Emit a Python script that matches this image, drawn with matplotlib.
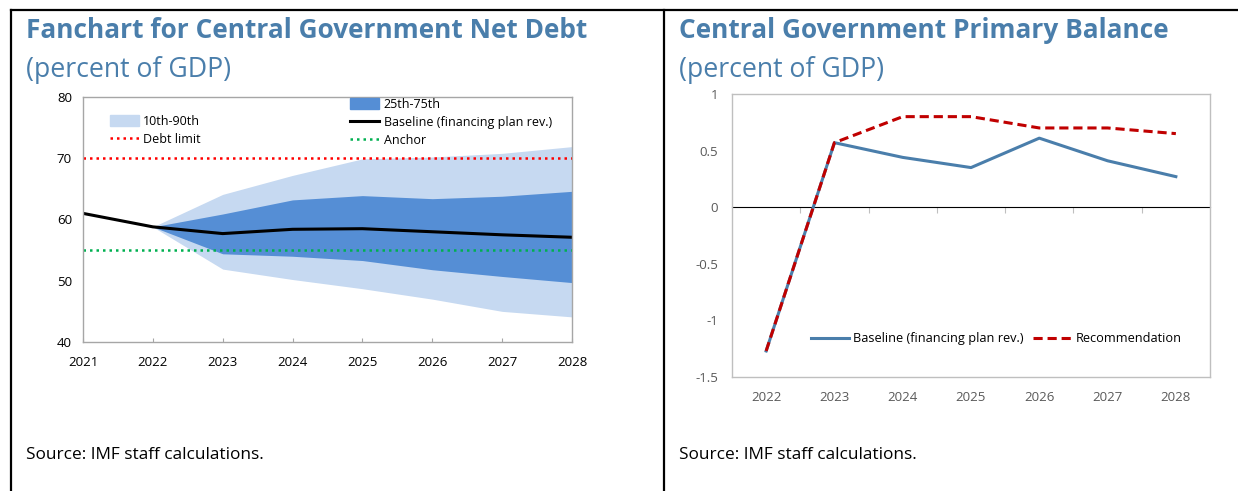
import matplotlib.pyplot as plt
import matplotlib.patches as mpatches
from matplotlib.lines import Line2D

plt.rcParams['font.family'] = ['Open Sans', 'DejaVu Sans']

# left panel: net debt fanchart
years_debt = [2021, 2022, 2023, 2024, 2025, 2026, 2027, 2028]
baseline_debt = [61.0, 58.8, 57.7, 58.4, 58.5, 58.0, 57.5, 57.1]
fan_years = [2022, 2023, 2024, 2025, 2026, 2027, 2028]
p10 = [58.8, 51.9, 50.2, 48.7, 47.0, 45.0, 44.1]
p25 = [58.8, 54.4, 54.0, 53.3, 51.8, 50.7, 49.7]
p75 = [58.8, 60.9, 63.2, 63.9, 63.4, 63.8, 64.6]
p90 = [58.8, 64.1, 67.2, 69.9, 70.2, 70.8, 71.9]
debt_limit = 70
anchor = 55

# right panel: primary balance
years_pb = [2022, 2023, 2024, 2025, 2026, 2027, 2028]
baseline_pb = [-1.27, 0.57, 0.44, 0.35, 0.61, 0.41, 0.27]
recommendation_pb = [-1.27, 0.57, 0.80, 0.80, 0.70, 0.70, 0.65]

title_col = '#4a7eab'
W, H = 1238, 491

fig = plt.figure(figsize=(W / 100, H / 100), dpi=100)

# frame lines
fig.add_artist(Line2D([11 / W, 1], [1 - 10 / H] * 2, color='black', lw=1.6))
fig.add_artist(Line2D([11 / W] * 2, [0, 1 - 10 / H], color='black', lw=1.6))
fig.add_artist(Line2D([664 / W] * 2, [0, 1 - 10 / H], color='black', lw=1.6))

# titles
fig.text(26 / W, 1 - 31 / H, 'Fanchart for Central Government Net Debt', fontsize=18.9,
         fontweight='bold', color=title_col, va='center')
fig.text(26 / W, 1 - 70 / H, '(percent of GDP)', fontsize=19.2, color=title_col, va='center')
fig.text(679 / W, 1 - 31 / H, 'Central Government Primary Balance', fontsize=18.9,
         fontweight='bold', color=title_col, va='center')
fig.text(679 / W, 1 - 70 / H, '(percent of GDP)', fontsize=19.2, color=title_col, va='center')
fig.text(26 / W, 1 - 455 / H, 'Source: IMF staff calculations.', fontsize=12.4, va='center')
fig.text(679 / W, 1 - 455 / H, 'Source: IMF staff calculations.', fontsize=12.4, va='center')

# ---- left chart
ax1 = fig.add_axes([83 / W, 1 - 342 / H, 489 / W, 245 / H])
light = '#c6d9f1'
dark = '#558ed5'
ax1.fill_between(fan_years, p10, p90, color=light, lw=0)
ax1.fill_between(fan_years, p25, p75, color=dark, lw=0)
ax1.axhline(debt_limit, color='#ff0000', lw=1.8, linestyle=(0, (1, 1.6)))
ax1.axhline(anchor, color='#00b050', lw=1.8, linestyle=(0, (1, 1.6)))
ax1.plot(years_debt, baseline_debt, color='black', lw=2.2)
ax1.set_xlim(2021, 2028)
ax1.set_ylim(40, 80)
ax1.set_xticks(years_debt)
ax1.set_yticks([40, 50, 60, 70, 80])
ax1.tick_params(axis='both', labelsize=9.5, colors='#a6a6a6', labelcolor='black')
ax1.tick_params(axis='x', direction='in', length=3, pad=10)
ax1.tick_params(axis='y', length=0, pad=8)
for s in ax1.spines.values():
    s.set_color('#a6a6a6')
    s.set_linewidth(1)

leg_a = ax1.legend(handles=[mpatches.Patch(color=light, label='10th-90th'),
                            Line2D([], [], color='#ff0000', lw=1.8, linestyle=(0, (1, 1.6)),
                                   label='Debt limit')],
                   loc='upper left', bbox_to_anchor=(0.055, 0.928), frameon=False,
                   fontsize=9, handlelength=2.3, handleheight=0.9, handletextpad=0.35,
                   labelspacing=0.42, borderpad=0, borderaxespad=0)
ax1.add_artist(leg_a)
ax1.legend(handles=[mpatches.Patch(color=dark, label='25th-75th'),
                    Line2D([], [], color='black', lw=2.2, label='Baseline (financing plan rev.)'),
                    Line2D([], [], color='#00b050', lw=1.8, linestyle=(0, (1, 1.6)),
                           label='Anchor')],
           loc='upper left', bbox_to_anchor=(0.547, 0.997), frameon=False,
           fontsize=9, handlelength=2.3, handleheight=0.9, handletextpad=0.35,
           labelspacing=0.42, borderpad=0, borderaxespad=0)

# ---- right chart
ax2 = fig.add_axes([732 / W, 1 - 377 / H, 478 / W, 283 / H])
ax2.plot(years_pb, baseline_pb, color='#4a7eab', lw=2.2,
         label='Baseline (financing plan rev.)')
ax2.plot(years_pb, recommendation_pb, color='#c00000', lw=2.2, linestyle=(0, (3, 1.6)),
         label='Recommendation')
ax2.set_xlim(2021.5, 2028.5)
ax2.set_ylim(-1.5, 1)
ax2.set_xticks(years_pb)
ax2.set_yticks([-1.5, -1, -0.5, 0, 0.5, 1])
ax2.set_yticklabels(['-1.5', '-1', '-0.5', '0', '0.5', '1'])
ax2.tick_params(axis='both', labelsize=9.5, labelcolor='#595959', colors='#bfbfbf')
ax2.tick_params(axis='x', length=0, pad=10)
ax2.tick_params(axis='y', length=0, pad=10)
for s in ax2.spines.values():
    s.set_color('#bfbfbf')
    s.set_linewidth(1)

zero_ax = ax2.secondary_xaxis(0.6)
zero_ax.set_xticks([y + 0.5 for y in years_pb[:-1]])
zero_ax.set_xticklabels([])
zero_ax.tick_params(direction='in', length=4, colors='#bfbfbf')
zero_ax.spines['bottom'].set_color('#bfbfbf')

ax2.legend(loc='upper left', bbox_to_anchor=(0.165, 0.158), ncol=2, frameon=False,
           fontsize=9.2, handlelength=3.0, handletextpad=0.3, columnspacing=0.75,
           borderpad=0, borderaxespad=0)

fig.savefig('out.png', dpi=100)
